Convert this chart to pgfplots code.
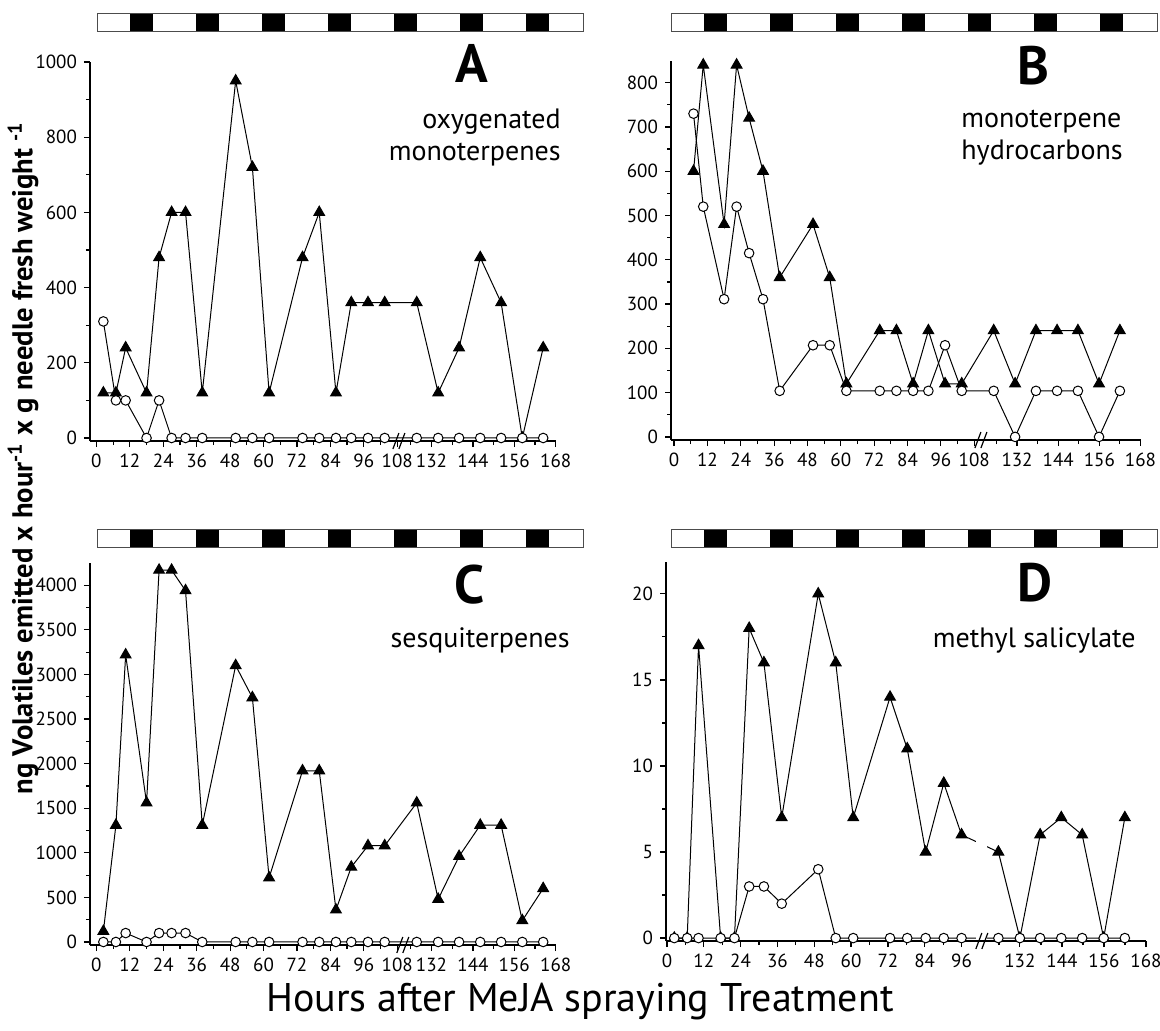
\documentclass[border=0pt]{standalone}
\usepackage{fontspec}
\setmainfont{PT Sans}
\usepackage{pgfplots}
\usepackage{pgfplotstable}
\pgfplotsset{compat=1.18}

% u = position on the broken time axis (hours left of the break)
\pgfplotstableread{
u     tri   circ
2.5   120   310
7     120   100
10.5  240   100
18    120   0
22.5  480   100
27    600   0
32    600   0
38    120   0
50    950   0
56    720   0
62    120   0
74    480   0
80    600   0
86    120   0
91.5  360   0
97.5  360   0
103.5 360   0
115   360   0
122.7 120   0
130.2 240   0
137.8 480   0
145.3 360   0
152.9 0     0
160.4 240   0
}\dataA

\pgfplotstableread{
u     tri   circ
7     600   730
10.5  840   520
18    480   311
22.5  840   520
27    720   415
32    600   311
38    360   104
50    480   207
56    360   207
62    120   104
74    240   104
80    240   104
86    120   104
91.5  240   104
97.5  120   207
103.5 120   104
115   240   104
122.7 120   0
130.2 240   104
137.8 240   104
145.3 240   104
152.9 120   0
160.4 240   104
}\dataB

\pgfplotstableread{
u     tri   circ
2.5   120   0
7     1310  0
10.5  3220  100
18    1560  0
22.5  4170  100
27    4170  100
32    3940  100
38    1310  0
50    3100  0
56    2740  0
62    720   0
74    1920  0
80    1920  0
86    360   0
91.5  840   0
97.5  1080  0
103.5 1080  0
115   1560  0
122.7 480   0
130.2 960   0
137.8 1310  0
145.3 1310  0
152.9 240   0
160.4 600   0
}\dataC

\pgfplotstableread{
u     tri   circ
2.4   0     0
6.6   0     0
10.3  17    0
17.5  0     0
22    0     0
26.8  18    3
31.6  16    3
37.4  7     2
49.3  20    4
55    16    0
60.7  7     0
72.7  14    0
78.3  11    0
84.3  5     0
90.2  9     0
96    6     0
108   5     0
115   0     0
121.6 6     0
128.5 7     0
135.3 6     0
142.3 0     0
149.2 7     0
}\dataD

\pgfplotsset{
  panel/.style={
    scale only axis,
    anchor=south west,
    axis lines*=left,
    axis line style={line width=0.8pt, -},
    tick style={black, line width=0.6pt},
    tick align=outside,
    major tick length=3pt,
    minor tick length=2pt,
    ticklabel style={font=\fontsize{9.5}{10}\selectfont},
    /pgf/number format/assume math mode=true,
    /pgf/number format/1000 sep={},
    minor y tick num=1,
    clip=false,
  },
  tri/.style={black, line width=0.5pt, mark=triangle*, mark size=3.1pt,
    mark options={fill=black, solid}},
  circ/.style={black, line width=0.5pt, mark=*, mark size=2.4pt,
    mark options={fill=white, draw=black, line width=0.5pt, solid}},
}

\newcommand{\daybar}[2]{%
  \fill[white] (#1,#2) rectangle ++(243pt,9pt);
  \foreach \k in {0,...,6}
    \fill[black] ({#1+16.5pt+\k*33pt},#2) rectangle ++(11.5pt,9pt);
  \draw[line width=0.5pt, black!70] (#1,#2) rectangle ++(243pt,9pt);
}
\newcommand{\axbreak}[2]{%
  \draw[line width=0.6pt] ([xshift=-3pt,yshift=-4pt]axis cs:#1,#2) -- ([xshift=0pt,yshift=4pt]axis cs:#1,#2);
  \draw[line width=0.6pt] ([xshift=0pt,yshift=-4pt]axis cs:#1,#2) -- ([xshift=3pt,yshift=4pt]axis cs:#1,#2);
}

\begin{document}
\begin{tikzpicture}
\useasboundingbox (0,0) rectangle (580pt,515pt);

% ---------- A ----------
\begin{axis}[panel, at={(45pt,294.5pt)}, width=233pt, height=189.5pt,
  xmin=-2.3, xmax=165, ymin=-8, ymax=1000,
  xtick={0,12,24,36,48,60,72,84,96,108,120.3,135.2,150,164.9},
  xticklabels={0,12,24,36,48,60,72,84,96,108,132,144,156,168},
  minor xtick={6,18,30,42,54,66,78,90,102,112.9,127.75,142.6,157.45},
  ytick={0,200,...,1000}]
\addplot[tri] table[x=u, y=tri] {\dataA};
\addplot[circ] table[x=u, y=circ] {\dataA};
\axbreak{108.6}{-8}
\end{axis}

% ---------- B ----------
\begin{axis}[panel, at={(335.5pt,295pt)}, width=235pt, height=189.75pt,
  xmin=-1.1, xmax=168, ymin=-7, ymax=850,
  xtick={0,12,24,36,48,60,72,84,96,108,123.4,138.2,153,167.8},
  xticklabels={0,12,24,36,48,60,72,84,96,108,132,144,156,168},
  minor xtick={6,18,30,42,54,66,78,90,102,116,130.8,145.6,160.4},
  ytick={0,100,...,800}]
\addplot[tri] table[x=u, y=tri] {\dataB};
\addplot[circ] table[x=u, y=circ] {\dataB};
\axbreak{110.4}{-7}
\end{axis}

% ---------- C ----------
\begin{axis}[panel, at={(45pt,42.5pt)}, width=233pt, height=191pt,
  xmin=-2.3, xmax=165, ymin=-34, ymax=4250,
  xtick={0,12,24,36,48,60,72,84,96,108,120.3,135.2,150,164.9},
  xticklabels={0,12,24,36,48,60,72,84,96,108,132,144,156,168},
  minor xtick={6,18,30,42,54,66,78,90,102,112.9,127.75,142.6,157.45},
  ytick={0,500,...,4000}]
\addplot[tri] table[x=u, y=tri] {\dataC};
\addplot[circ] table[x=u, y=circ] {\dataC};
\axbreak{110}{-34}
\end{axis}

% ---------- D ----------
\begin{axis}[panel, at={(333pt,44.5pt)}, width=240pt, height=189.5pt,
  xmin=-0.3, xmax=156.1, ymin=-0.17, ymax=21.85,
  xtick={0,12,24,36,48,60,72,84,96,115,128.7,142.4,156.1},
  xticklabels={0,12,24,36,48,60,72,84,96,132,144,156,168},
  minor xtick={6,18,30,42,54,66,78,90,108.2,121.85,135.55,149.25},
  ytick={0,5,...,20}]
\addplot[tri] table[x=u, y=tri] {\dataD};
\addplot[circ] table[x=u, y=circ] {\dataD};
% gap in the curves at the axis break
\fill[white] (axis cs:100.8,-0.07) rectangle (axis cs:104.3,6);
\axbreak{102.6}{-0.17}
\end{axis}

% day / night bars
\daybar{48.5pt}{499pt}
\daybar{335.5pt}{499pt}
\daybar{48.5pt}{241.5pt}
\daybar{335.5pt}{241.5pt}

% panel letters and names
\begin{scope}[font=\bfseries\fontsize{27}{30}\selectfont]
\node at (236pt,483.5pt) {A};
\node at (516.5pt,482pt) {B};
\node at (235pt,222.5pt) {C};
\node at (517.5pt,223.5pt) {D};
\end{scope}
\begin{scope}[font=\fontsize{14}{16}\selectfont, inner sep=0pt]
\node[anchor=east] at (280.5pt,454pt) {oxygenated};
\node[anchor=east] at (280.5pt,437.5pt) {monoterpenes};
\node[anchor=west] at (480.5pt,454pt) {monoterpene};
\node[anchor=west] at (480.5pt,438.5pt) {hydrocarbons};
\node[anchor=east] at (285pt,195pt) {sesquiterpenes};
\node[anchor=east] at (568pt,195pt) {methyl salicylate};
\end{scope}

\node[rotate=90, font=\bfseries\fontsize{14.3}{16}\selectfont] at (11.5pt,286pt)
  {ng Volatiles emitted x hour\textsuperscript{-1} x g needle fresh weight \textsuperscript{-1}};
\node[font=\fontsize{20}{22}\selectfont] at (290pt,14pt)
  {Hours after MeJA spraying Treatment};
\end{tikzpicture}
\end{document}
